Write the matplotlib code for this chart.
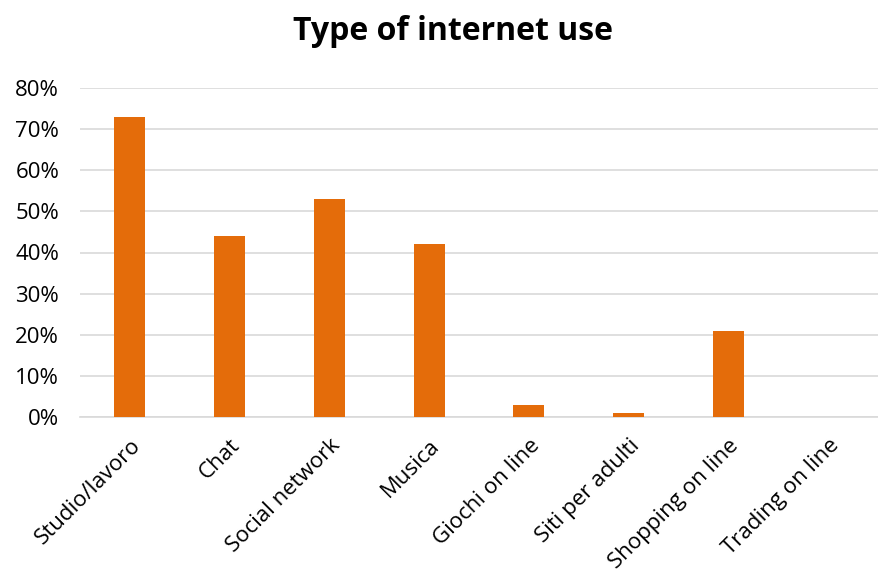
import matplotlib.pyplot as plt
from matplotlib.ticker import PercentFormatter

plt.rcParams['font.family'] = ['Open Sans', 'DejaVu Sans']

categories = ['Studio/lavoro', 'Chat', 'Social network', 'Musica',
              'Giochi on line', 'Siti per adulti', 'Shopping on line', 'Trading on line']
values = [73, 44, 53, 42, 3, 1, 21, 0]

fig = plt.figure(figsize=(8.79, 5.70), dpi=100)
ax = fig.add_axes([80 / 879, 1 - 417 / 570, 798 / 879, (417 - 88) / 570])

ax.bar(range(len(categories)), values, width=0.31, color='#E46C0A', zorder=3)

ax.set_xlim(-0.5, len(categories) - 0.5)
ax.set_ylim(0, 80)
ax.set_yticks(range(0, 81, 10))
ax.yaxis.set_major_formatter(PercentFormatter(decimals=0))
ax.grid(axis='y', color='#D9D9D9', linewidth=1.2, zorder=0)

ax.set_xticks(range(len(categories)))
ax.set_xticklabels(categories, rotation=45, ha='right', rotation_mode='anchor')

for s in ['top', 'right', 'left']:
    ax.spines[s].set_visible(False)
ax.spines['bottom'].set_color('#D9D9D9')
ax.spines['bottom'].set_linewidth(1.2)
ax.tick_params(axis='both', length=0, labelsize=16, colors='#000000')
ax.tick_params(axis='y', pad=15)
ax.tick_params(axis='x', pad=13)

fig.text(453 / 879, 1 - 31 / 570, 'Type of internet use', ha='center', va='center',
         fontsize=23, fontweight='bold')

fig.savefig('out.png', dpi=100)
